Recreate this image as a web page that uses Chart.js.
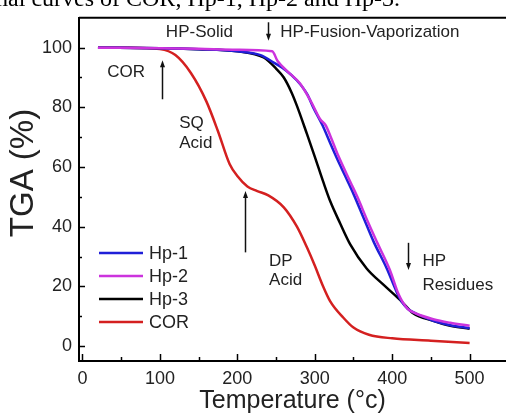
<!DOCTYPE html>
<html>
<head>
<meta charset="utf-8">
<script src="https://cdn.jsdelivr.net/npm/chart.js@4.4.1/dist/chart.umd.min.js"></script>
<style>
  html, body { margin: 0; padding: 0; background: #fff; }
</style>
</head>
<body>
<canvas id="tgaChart" width="506" height="419"></canvas>
<script>
// TGA curves
var hp1Temp = [20, 100, 150, 200, 230, 247, 262, 277, 290, 298, 310, 320, 332, 342, 350, 363, 376, 393, 406, 412, 420, 430, 453, 475, 500];
var hp1Mass = [100, 99.8, 99.5, 98.8, 97.5, 95, 92.5, 89, 84.5, 80, 74, 68, 61, 55.5, 51, 43, 35, 26, 18, 15, 12.5, 11, 8.5, 7, 6];

var hp2Temp = [20, 100, 150, 200, 245, 252, 265, 281, 295, 307, 314, 320, 330, 346, 355, 368, 381, 397, 408, 413, 420, 430, 453, 475, 500];
var hp2Mass = [100, 99.8, 99.6, 99.3, 98.8, 95.5, 92, 88, 82, 76, 74, 70.5, 64, 55, 50, 42, 34.5, 25.5, 17.5, 15, 12.5, 11, 9, 7.8, 6.8];

var hp3Temp = [20, 100, 150, 200, 234, 250, 260, 270, 277, 290, 300, 311, 320, 333, 346, 367, 389, 408, 412, 427, 453, 475, 500];
var hp3Mass = [100, 99.8, 99.5, 98.8, 96.7, 93, 90, 85, 80.5, 71, 63.5, 55, 48.5, 41, 34, 26, 20.5, 16, 15, 11, 8.5, 6.8, 5.8];

var corTemp = [20, 60, 100, 120, 140, 160, 175, 190, 200, 213, 225, 240, 260, 277, 290, 300, 310, 320, 337, 350, 370, 400, 450, 500];
var corMass = [100, 100, 99.5, 97.5, 91.5, 82, 72, 61, 57, 53.5, 52, 50.5, 46.5, 40, 33, 27, 20.5, 15, 9.5, 6.2, 3.8, 2.6, 1.8, 1];

var seriesNames = ['Hp-1', 'Hp-2', 'Hp-3', 'COR'];
var seriesColors = ['#1f1fd8', '#cc33dd', '#000000', '#d42020'];
var xTicks = [0, 100, 200, 300, 400, 500];
var yTicks = [0, 20, 40, 60, 80, 100];

var sans = '"Liberation Sans", Arial, sans-serif';

function pairs(xs, ys) {
    return xs.map(function (x, i) { return {x: x, y: ys[i]}; });
}

// text notes and arrows, in data units
var notes = [
    {text: 'HP-Solid', x: 151, y: 105, align: 'center'},
    {text: 'HP-Fusion-Vaporization', x: 255.5, y: 105, align: 'left'},
    {text: 'COR', x: 32, y: 91.8, align: 'left'},
    {text: 'SQ', x: 125, y: 74.5, align: 'left'},
    {text: 'Acid', x: 125, y: 68, align: 'left'},
    {text: 'DP', x: 241, y: 28.5, align: 'left'},
    {text: 'Acid', x: 241, y: 22, align: 'left'},
    {text: 'HP', x: 439, y: 28.5, align: 'left'},
    {text: 'Residues', x: 439, y: 20.5, align: 'left'}
];
var arrows = [
    {x: 239, from: 108.5, to: 102.3},
    {x: 103, from: 82.7, to: 95.8},
    {x: 210, from: 31.4, to: 52},
    {x: 421, from: 34.6, to: 25.5}
];

var decor = {
    id: 'decor',
    afterDraw: function (chart) {
        var ctx = chart.ctx, a = chart.chartArea;
        var xs = chart.scales.x, ys = chart.scales.y;
        ctx.save();

        // top frame line
        ctx.strokeStyle = '#000';
        ctx.lineWidth = 2;
        ctx.beginPath();
        ctx.moveTo(a.left, a.top);
        ctx.lineTo(a.right, a.top);
        ctx.stroke();

        // ticks pointing inwards
        ctx.lineWidth = 1.5;
        for (var t = 0; t <= 500; t += 50) {
            var px = Math.round(xs.getPixelForValue(t)) + 0.5;
            var len = t % 100 === 0 ? 7 : 4;
            ctx.beginPath();
            ctx.moveTo(px, a.bottom);
            ctx.lineTo(px, a.bottom - len);
            ctx.stroke();
        }
        for (var w = 0; w <= 100; w += 10) {
            var py = Math.round(ys.getPixelForValue(w)) + 0.5;
            var l2 = w % 20 === 0 ? 6 : 3;
            ctx.beginPath();
            ctx.moveTo(a.left, py);
            ctx.lineTo(a.left + l2, py);
            ctx.stroke();
        }

        // notes
        ctx.fillStyle = '#222';
        ctx.font = '17px ' + sans;
        ctx.textBaseline = 'middle';
        notes.forEach(function (n) {
            ctx.textAlign = n.align;
            ctx.fillText(n.text, xs.getPixelForValue(n.x), ys.getPixelForValue(n.y));
        });

        // arrows
        ctx.strokeStyle = '#111';
        ctx.fillStyle = '#111';
        ctx.lineWidth = 1.5;
        arrows.forEach(function (ar) {
            var x = Math.round(xs.getPixelForValue(ar.x)) + 0.5;
            var y1 = ys.getPixelForValue(ar.from), y2 = ys.getPixelForValue(ar.to);
            var dir = y2 > y1 ? 1 : -1;
            ctx.beginPath();
            ctx.moveTo(x, y1);
            ctx.lineTo(x, y2 - dir * 5);
            ctx.stroke();
            ctx.beginPath();
            ctx.moveTo(x, y2);
            ctx.lineTo(x - 2.5, y2 - dir * 7);
            ctx.lineTo(x + 2.5, y2 - dir * 7);
            ctx.closePath();
            ctx.fill();
        });

        // legend
        ctx.font = '18px ' + sans;
        ctx.textAlign = 'left';
        chart.data.datasets.forEach(function (ds, i) {
            var y = 253 + i * 23;
            ctx.strokeStyle = ds.borderColor;
            ctx.lineWidth = 2.5;
            ctx.beginPath();
            ctx.moveTo(a.left + 20, y);
            ctx.lineTo(a.left + 64, y);
            ctx.stroke();
            ctx.fillStyle = '#222';
            ctx.fillText(ds.label, a.left + 70, y + 1);
        });

        // y axis title
        ctx.save();
        ctx.translate(24, 173);
        ctx.rotate(-Math.PI / 2);
        ctx.font = '33px ' + sans;
        ctx.textAlign = 'center';
        ctx.fillStyle = '#222';
        ctx.fillText('TGA (%)', 0, 0);
        ctx.restore();

        // figure caption cut off by the top edge
        ctx.font = '24px "Liberation Serif", "Times New Roman", serif';
        ctx.textAlign = 'right';
        ctx.textBaseline = 'alphabetic';
        ctx.fillStyle = '#000';
        ctx.fillText('TGA thermal curves of COR, Hp-1, Hp-2 and Hp-3.', 400, 6);

        ctx.restore();
    }
};

var datasets = [
    pairs(hp1Temp, hp1Mass),
    pairs(hp2Temp, hp2Mass),
    pairs(hp3Temp, hp3Mass),
    pairs(corTemp, corMass)
].map(function (pts, i) {
    return {
        label: seriesNames[i],
        data: pts,
        borderColor: seriesColors[i],
        borderWidth: 2.5,
        pointRadius: 0,
        fill: false,
        cubicInterpolationMode: 'monotone',
        order: [1, 0, 2, 3][i]
    };
});

new Chart(document.getElementById('tgaChart').getContext('2d'), {
    type: 'line',
    data: {datasets: datasets},
    options: {
        responsive: false,
        animation: false,
        layout: {padding: {top: 10, right: 0, left: 0, bottom: 0}},
        plugins: {legend: {display: false}, tooltip: {enabled: false}},
        scales: {
            x: {
                type: 'linear',
                min: -4.5,
                max: 547,
                afterBuildTicks: function (s) { s.ticks = xTicks.map(function (v) { return {value: v}; }); },
                afterFit: function (s) { s.height = 58; },
                grid: {display: false, drawTicks: false},
                border: {display: true, color: '#000', width: 2},
                ticks: {color: '#222', padding: 7, maxRotation: 0, font: {family: sans, size: 18}},
                title: {display: true, text: 'Temperature (°c)', color: '#222', padding: {top: 0, bottom: 3}, font: {family: sans, size: 25}}
            },
            y: {
                type: 'linear',
                min: -5,
                max: 110,
                afterBuildTicks: function (s) { s.ticks = yTicks.map(function (v) { return {value: v}; }); },
                afterFit: function (s) { s.width = 79; },
                grid: {display: false, drawTicks: false},
                border: {display: true, color: '#000', width: 2},
                ticks: {color: '#222', padding: 7, font: {family: sans, size: 18}}
            }
        }
    },
    plugins: [decor]
});
</script>
</body>
</html>
